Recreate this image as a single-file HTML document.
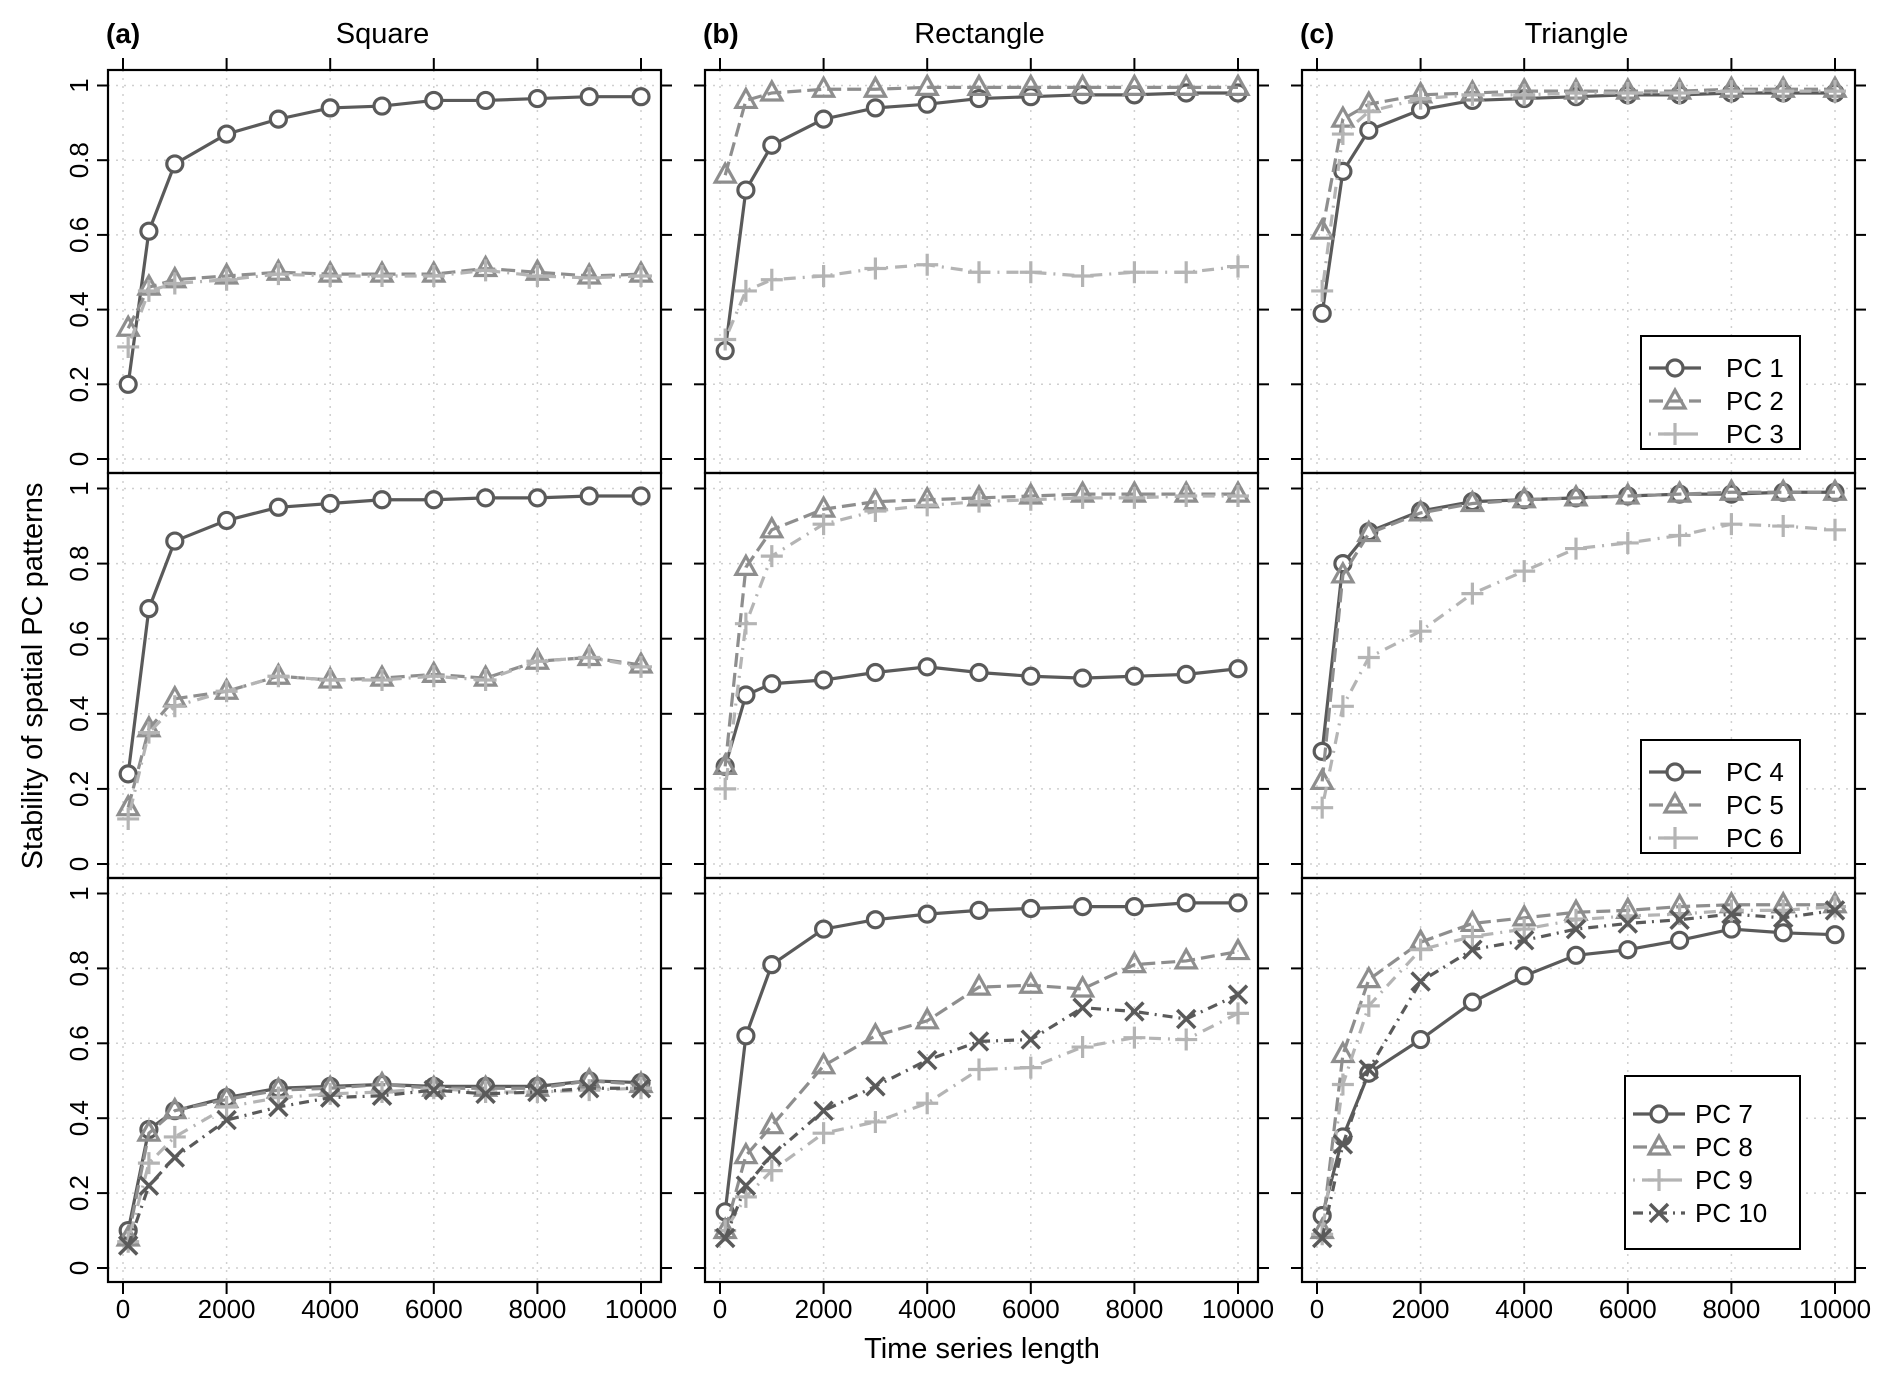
<!DOCTYPE html>
<html><head><meta charset="utf-8"><style>
body{margin:0;background:#fff;}
svg{display:block;font-family:"Liberation Sans",sans-serif;}
</style></head><body>
<svg id="chart" width="1892" height="1382" viewBox="0 0 1892 1382" xmlns="http://www.w3.org/2000/svg"></svg>
<script>
const xValues=[100,500,1000,2000,3000,4000,5000,6000,7000,8000,9000,10000];
const xTicks=[0,2000,4000,6000,8000,10000];
const yTicks=[0,0.2,0.4,0.6,0.8,1];
const yTickLabels=["0","0.2","0.4","0.6","0.8","1"];
const colTitles=["Square","Rectangle","Triangle"];
const colTags=["(a)","(b)","(c)"];
// row 1
const a1_pc1=[.20,.61,.79,.87,.91,.94,.945,.96,.96,.965,.97,.97];
const a1_pc2=[.35,.46,.48,.49,.50,.495,.495,.495,.51,.50,.49,.495];
const a1_pc3=[.30,.45,.47,.48,.495,.49,.49,.49,.505,.49,.485,.49];
const b1_pc1=[.29,.72,.84,.91,.94,.95,.965,.97,.975,.975,.98,.98];
const b1_pc2=[.76,.96,.98,.99,.99,.995,.995,.995,.995,.995,.995,.995];
const b1_pc3=[.32,.45,.48,.49,.51,.52,.50,.50,.49,.50,.50,.515];
const c1_pc1=[.39,.77,.88,.935,.96,.965,.97,.975,.975,.98,.98,.98];
const c1_pc2=[.61,.91,.95,.975,.98,.985,.985,.985,.985,.99,.99,.99];
const c1_pc3=[.45,.87,.93,.965,.975,.975,.98,.98,.98,.985,.985,.985];
// row 2
const a2_pc4=[.24,.68,.86,.915,.95,.96,.97,.97,.975,.975,.98,.98];
const a2_pc5=[.15,.36,.44,.46,.50,.49,.495,.505,.495,.54,.55,.53];
const a2_pc6=[.12,.35,.42,.46,.50,.49,.49,.50,.49,.54,.55,.525];
const b2_pc4=[.26,.45,.48,.49,.51,.525,.51,.50,.495,.50,.505,.52];
const b2_pc5=[.26,.79,.89,.945,.965,.97,.975,.98,.985,.985,.985,.985];
const b2_pc6=[.20,.64,.82,.905,.94,.955,.965,.97,.975,.975,.98,.98];
const c2_pc4=[.30,.80,.885,.94,.965,.97,.975,.98,.985,.985,.99,.99];
const c2_pc5=[.22,.77,.88,.935,.96,.97,.975,.98,.985,.99,.99,.99];
const c2_pc6=[.15,.42,.55,.62,.72,.78,.84,.855,.875,.905,.90,.89];
// row 3
const a3_pc7=[.10,.37,.42,.455,.48,.485,.49,.485,.485,.485,.50,.495];
const a3_pc8=[.08,.36,.42,.45,.475,.48,.49,.48,.48,.48,.50,.49];
const a3_pc9=[.07,.28,.35,.43,.455,.465,.47,.48,.47,.47,.475,.48];
const a3_pc10=[.06,.22,.295,.395,.43,.455,.46,.475,.465,.47,.48,.48];
const b3_pc7=[.15,.62,.81,.905,.93,.945,.955,.96,.965,.965,.975,.975];
const b3_pc8=[.10,.30,.38,.54,.62,.66,.75,.755,.745,.81,.82,.845];
const b3_pc9=[.10,.19,.26,.36,.39,.44,.53,.535,.59,.615,.61,.68];
const b3_pc10=[.08,.22,.30,.42,.485,.555,.605,.61,.695,.685,.665,.73];
const c3_pc7=[.14,.35,.52,.61,.71,.78,.835,.85,.875,.905,.895,.89];
const c3_pc8=[.10,.57,.77,.87,.92,.935,.95,.955,.965,.97,.97,.97];
const c3_pc9=[.09,.49,.70,.85,.885,.905,.93,.94,.945,.955,.955,.965];
const c3_pc10=[.08,.33,.53,.765,.85,.875,.905,.92,.93,.945,.935,.955];

const rowSeries=[
 [[a1_pc1,a1_pc2,a1_pc3],[b1_pc1,b1_pc2,b1_pc3],[c1_pc1,c1_pc2,c1_pc3]],
 [[a2_pc4,a2_pc5,a2_pc6],[b2_pc4,b2_pc5,b2_pc6],[c2_pc4,c2_pc5,c2_pc6]],
 [[a3_pc7,a3_pc8,a3_pc9,a3_pc10],[b3_pc7,b3_pc8,b3_pc9,b3_pc10],[c3_pc7,c3_pc8,c3_pc9,c3_pc10]]
];
const rowNames=[["PC 1","PC 2","PC 3"],["PC 4","PC 5","PC 6"],["PC 7","PC 8","PC 9","PC 10"]];

const styles=[
 {c:"#5a5a5a",d:"",m:"circle"},
 {c:"#8e8e8e",d:"14 6",m:"tri"},
 {c:"#b4b4b4",d:"2 7 12 7",m:"plus"},
 {c:"#5a5a5a",d:"10 6 2 6",m:"x"}
];
const colLeft=[108,705,1302], colW=553;
const rowTop=[70,473,878], rowBot=[473,878,1282];
const svg=document.getElementById('chart');
const NS="http://www.w3.org/2000/svg";
function mk(tag,attrs,parent){const e=document.createElementNS(NS,tag);for(const k in attrs)e.setAttribute(k,attrs[k]);(parent||svg).appendChild(e);return e;}
function xs(c,v){return colLeft[c]+15+v/10000*(colW-35);}
function ys(r,v){const y1=rowTop[r]+15.5,y0=rowBot[r]-14;return y0-v*(y0-y1);}

function marker(g,m,x,y,col){
  let e;
  if(m==="circle") e=mk('circle',{cx:x,cy:y,r:8,fill:"#fff",stroke:col,'stroke-width':3.2},g);
  else if(m==="tri") e=mk('polygon',{points:`${x},${y-11} ${x-10},${y+7} ${x+10},${y+7}`,fill:"none",stroke:col,'stroke-width':3.2},g);
  else if(m==="plus") e=mk('path',{d:`M${x-11},${y}H${x+11}M${x},${y-11}V${y+11}`,stroke:col,'stroke-width':3.2},g);
  else e=mk('path',{d:`M${x-9},${y-9}L${x+9},${y+9}M${x-9},${y+9}L${x+9},${y-9}`,stroke:col,'stroke-width':3.5},g);
  return e;
}

for(let r=0;r<3;r++)for(let c=0;c<3;c++){
  const L=colLeft[c],T=rowTop[r],B=rowBot[r];
  const pg=mk('g',{});
  
  
  xTicks.forEach(t=>mk('line',{x1:xs(c,t),x2:xs(c,t),y1:T,y2:B,stroke:"#cfcfcf",'stroke-width':1.5,'stroke-dasharray':"2 6"},pg));
  yTicks.forEach(t=>mk('line',{x1:L,x2:L+colW,y1:ys(r,t),y2:ys(r,t),stroke:"#cfcfcf",'stroke-width':1.5,'stroke-dasharray':"2 6"},pg));
  yTicks.forEach(t=>{mk('line',{x1:L-11,x2:L,y1:ys(r,t),y2:ys(r,t),stroke:"#000",'stroke-width':2},pg);mk('line',{x1:L+colW,x2:L+colW+11,y1:ys(r,t),y2:ys(r,t),stroke:"#000",'stroke-width':2},pg);});
  if(r===0) xTicks.forEach(t=>mk('line',{x1:xs(c,t),x2:xs(c,t),y1:T-12,y2:T,stroke:"#000",'stroke-width':2},pg));
  if(r===2) xTicks.forEach((t,i)=>{mk('line',{x1:xs(c,t),x2:xs(c,t),y1:B,y2:B+12,stroke:"#000",'stroke-width':2},pg);
    const tx=mk('text',{x:xs(c,t),y:1318,'text-anchor':'middle','font-size':26},pg);tx.textContent=String(t);
    
    });
  if(c===0) yTicks.forEach((t,i)=>{const tx=mk('text',{x:0,y:0,'text-anchor':'middle','font-size':26,transform:`translate(${L-20},${ys(r,t)}) rotate(-90)`},pg);tx.textContent=yTickLabels[i];
    
    });
  const ser=rowSeries[r][c];
  ser.forEach((vals,si)=>{
    const st=styles[si];
    const sg=mk('g',{},pg);
    
    
    const pts=vals.map((v,i)=>xs(c,xValues[i])+','+ys(r,v)).join(' ');
    mk('polyline',{points:pts,fill:"none",stroke:st.c,'stroke-width':3.2,'stroke-dasharray':st.d},sg);
    vals.forEach((v,i)=>{const m=marker(sg,st.m,xs(c,xValues[i]),ys(r,v),st.c);
      
      });
  });
  mk('rect',{x:L,y:T,width:colW,height:B-T,fill:"none",stroke:"#000",'stroke-width':2.2},pg);
  if(c===2){
    const n=rowNames[r].length;
    const lx=r===2?1625:1641, lw=1800-lx, lh=n===3?113:173;
    const ly=r===0?336:(r===1?740:1076);
    const lg=mk('g',{});
    
    
    mk('rect',{x:lx,y:ly,width:lw,height:lh,fill:"#fff",stroke:"#000",'stroke-width':2},lg);
    rowNames[r].forEach((nm,i)=>{
      const cy=ly+(n===3?32:38)+i*33;
      const st=styles[i];
      const e=mk('g',{},lg);
      
      
      mk('line',{x1:lx+8,x2:lx+60,y1:cy,y2:cy,stroke:st.c,'stroke-width':3.2,'stroke-dasharray':st.d},e);
      marker(e,st.m,lx+34,cy,st.c);
      const t=mk('text',{x:lx+(r===2?70:85),y:cy+9,'font-size':26},e);t.textContent=nm;
    });
  }
}
colTags.forEach((t,i)=>{const e=mk('text',{x:colLeft[i]-2,y:43,'font-size':28,'font-weight':'bold'});e.textContent=t;
  
  
  const f=mk('text',{x:colLeft[i]+colW/2-2,y:43,'font-size':29,'text-anchor':'middle'});f.textContent=colTitles[i];
  
  });
const xt=mk('text',{x:982,y:1358,'font-size':29,'text-anchor':'middle'});xt.textContent="Time series length";


const yt=mk('text',{x:0,y:0,'font-size':29,'text-anchor':'middle',transform:'translate(42,676) rotate(-90)'});yt.textContent="Stability of spatial PC patterns";


</script>
</body></html>
